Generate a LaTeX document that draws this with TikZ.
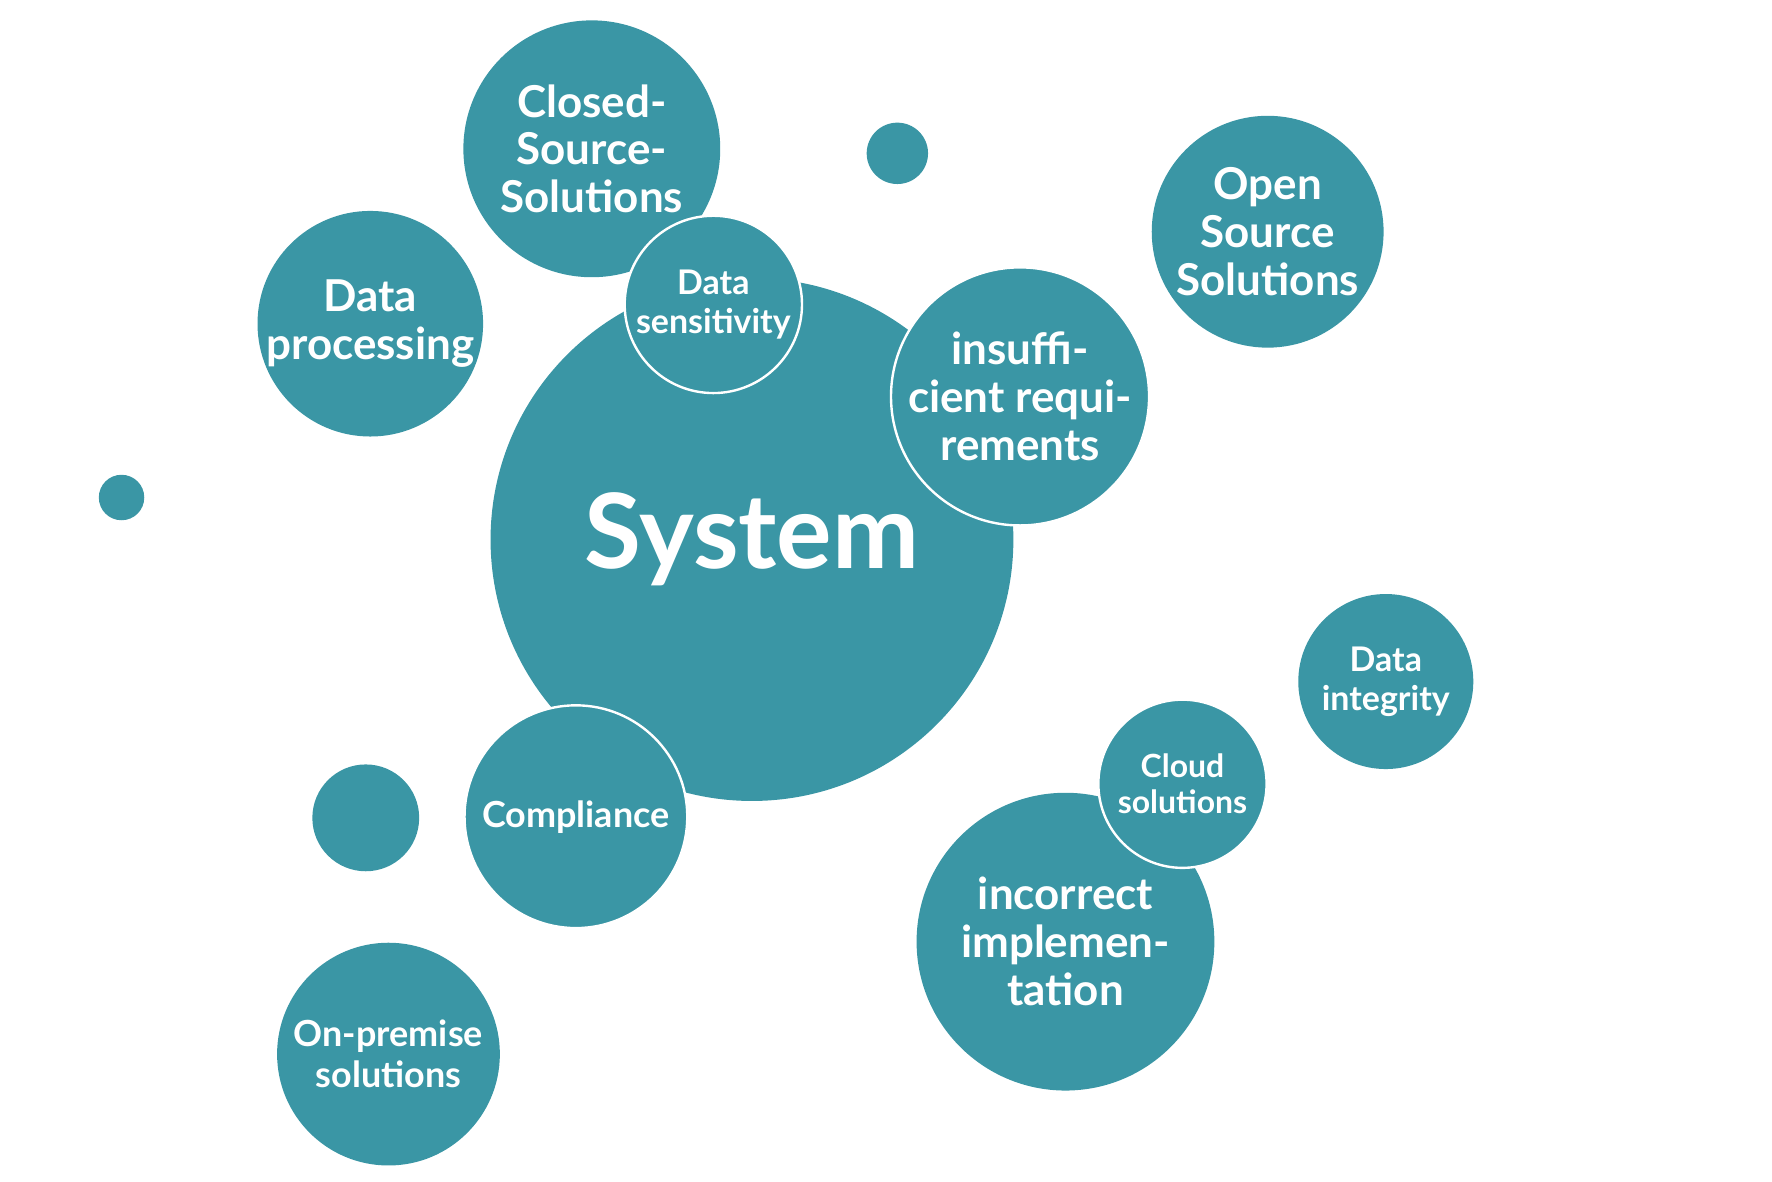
\documentclass[tikz,border=0pt]{standalone}
\usepackage{fontspec}
\setmainfont{Lato}
\definecolor{teal1}{HTML}{3A96A5}
\begin{document}
\begin{tikzpicture}[x=0.01cm,y=-0.01cm,
  b/.style={circle,fill=teal1,inner sep=0pt,text=white,align=center,font=\bfseries},
  w/.style={b,draw=white,line width=0.6pt}]
\useasboundingbox (0,0) rectangle (1560,1040);
\node[b,minimum size=460\pgflinewidth*0+4.6cm,font=\bfseries\fontsize{26}{30}\selectfont] (sys) at (662,475) {System};
\node[b,minimum size=2.26cm,font=\bfseries\fontsize{11}{12}\selectfont] (cs) at (521,131) {Closed-\\Source-\\Solutions};
\node[w,minimum size=1.56cm,font=\bfseries\fontsize{8.5}{9.6}\selectfont] (ds) at (628,268) {Data\\sensitivity};
\node[b,minimum size=1.98cm,font=\bfseries\fontsize{11}{12}\selectfont] (dp) at (326,285) {Data\\processing};
\node[b,minimum size=0.54cm] (d1) at (790,135) {};
\node[b,minimum size=2.04cm,font=\bfseries\fontsize{11}{12}\selectfont] (os) at (1116,204) {Open\\Source\\Solutions};
\node[w,minimum size=2.24cm,font=\bfseries\fontsize{11}{12}\selectfont] (ir) at (898,349) {insuffi-\\cient requi-\\rements};
\node[b,minimum size=0.40cm] (d2) at (107,438) {};
\node[b,minimum size=1.54cm,font=\bfseries\fontsize{8.5}{9.8}\selectfont] (di) at (1220,600) {Data\\integrity};
\node[b,minimum size=2.62cm,font=\bfseries\fontsize{11}{12}\selectfont] (ii) at (938,829) {incorrect\\implemen-\\tation};
\node[w,minimum size=1.48cm,font=\bfseries\fontsize{8}{9}\selectfont] (cl) at (1041,690) {Cloud\\solutions};
\node[w,minimum size=1.96cm,font=\bfseries\fontsize{9}{10}\selectfont] (co) at (507,719) {Compliance};
\node[b,minimum size=0.94cm] (d3) at (322,720) {};
\node[b,minimum size=1.96cm,font=\bfseries\fontsize{9}{10.2}\selectfont] (op) at (342,928) {On-premise\\solutions};
\end{tikzpicture}
\end{document}
